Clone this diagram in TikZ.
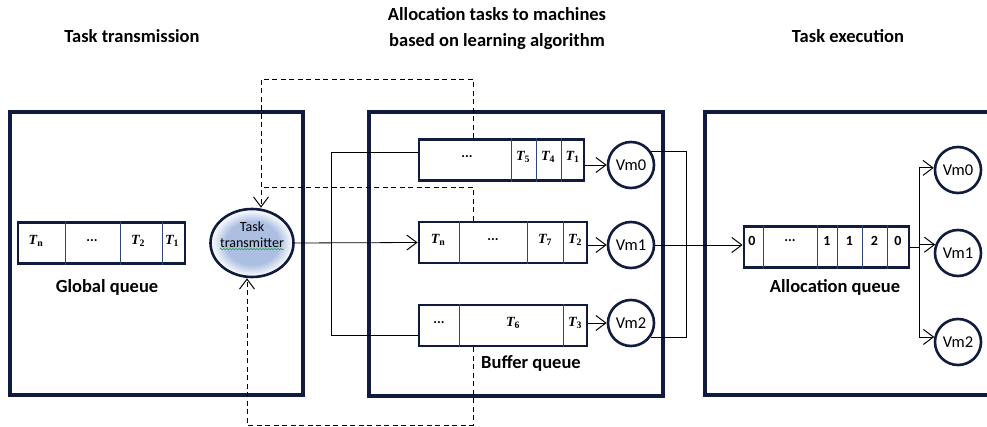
\documentclass[tikz,border=0pt]{standalone}
\usepackage{fontspec}
\setmainfont{Carlito}
\newfontfamily\tskfont{Liberation Serif}
\usetikzlibrary{shapes.geometric,positioning,calc,arrows.meta,decorations.pathmorphing}

\definecolor{navy}{RGB}{16,27,62}
\definecolor{cellblue}{RGB}{45,70,120}
\definecolor{txblue}{RGB}{172,190,226}
\definecolor{squig}{RGB}{40,160,60}

\pgfdeclareradialshading{txglow}{\pgfpoint{0bp}{0bp}}{color(0bp)=(txblue);
  color(16bp)=(txblue); color(23bp)=(white!80!txblue); color(25bp)=(white); color(50bp)=(white)}

\newcommand{\tsk}[1]{{\tskfont\bfseries\itshape T\textsubscript{\upshape #1}}}

\tikzset{
  frame/.style={draw=navy,line width=3.6pt},
  queue/.style={rectangle,draw=navy,line width=2.8pt,inner sep=0pt,minimum height=41pt},
  cell/.style={draw=cellblue,line width=0.9pt},
  vm/.style={circle,draw=navy,line width=2.6pt,fill=white,minimum size=46pt,inner sep=0pt,
    font=\fontsize{16.5}{16.5}\selectfont},
  link/.style={line width=0.8pt},
  feed/.style={line width=0.8pt,dash pattern=on 5pt off 3.5pt},
  tip/.style={-{Straight Barb[length=10pt,width=15pt,line width=1pt]}},
  lbl/.style={font=\bfseries\fontsize{18.5}{26}\selectfont,align=center,inner sep=0pt},
  tsklbl/.style={font=\fontsize{14}{14}\selectfont,inner sep=0pt},
  num/.style={font=\bfseries\fontsize{14}{14}\selectfont,inner sep=0pt}
}

\begin{document}
\begin{tikzpicture}[x=1pt,y=-1pt]

\useasboundingbox (0,0) rectangle (987,427);
\clip (0,0) rectangle (987,427);

\node[lbl] (ttx) at (132,36) {Task transmission};
\node[lbl] (tal) at (497,29) {Allocation tasks to machines\\based on learning algorithm};
\node[lbl] (tex) at (848,36) {Task execution};

\draw[frame] (10,112) rectangle (303,395);
\draw[frame] (369,112) rectangle (663,396);
\draw[frame] (705,112) rectangle (1000,395);

% global queue
\node[queue,minimum width=167pt] (gq) at (101.5,243) {};
\foreach \x in {65,120,162}{\draw[cell] (\x,0 |- gq.north) -- (\x,0 |- gq.south);}
\foreach \x/\t [count=\i] in {36/\tsk{n},92/\textbf{...},138/\tsk{2},172/\tsk{1}}
  {\node[tsklbl] (g\i) at (\x,241) {\t};}
\node[lbl] (gql) at (107,287) {Global queue};

% transmitter
\node[ellipse,draw=navy,line width=2.6pt,minimum width=83pt,minimum height=68pt,
  shading=txglow] (tx) at (252,243) {};
\node[align=center,inner sep=0pt,font=\fontsize{14}{16}\selectfont] (txl) at ($(tx)+(0,-8)$) {Task\\transmitter};
\draw[squig,line width=0.6pt,decorate,decoration={snake,amplitude=0.7pt,segment length=3pt}]
  ($(txl.south west)+(0,1)$) -- ($(txl.south east)+(0,1)$);

% buffer queues
\node[queue,minimum width=165pt] (q0) at (501.5,160) {};
\node[queue,minimum width=168pt] (q1) at (503,242.5) {};
\node[queue,minimum width=168pt] (q2) at (503,325.5) {};
\foreach \x in {511,536,561}{\draw[cell] (\x,0 |- q0.north) -- (\x,0 |- q0.south);}
\foreach \x in {459,527,563}{\draw[cell] (\x,0 |- q1.north) -- (\x,0 |- q1.south);}
\foreach \x in {459,563}{\draw[cell] (\x,0 |- q2.north) -- (\x,0 |- q2.south);}
\foreach \x/\t [count=\i] in {467/\textbf{...},523/\tsk{5},548/\tsk{4},572.5/\tsk{1}}
  {\node[tsklbl] (a\i) at (\x,157) {\t};}
\foreach \x/\t [count=\i] in {438/\tsk{n},493/\textbf{...},545/\tsk{7},575/\tsk{2}}
  {\node[tsklbl] (b\i) at (\x,240) {\t};}
\foreach \x/\t [count=\i] in {439/\textbf{...},513/\tsk{6},575/\tsk{3}}
  {\node[tsklbl] (c\i) at (\x,323) {\t};}
\node[lbl] (bql) at (531,363) {Buffer queue};

\node[vm] (vm0) at (631,165) {Vm0};
\node[vm] (vm1) at (631,245) {Vm1};
\node[vm] (vm2) at (631,323) {Vm2};
\foreach \k in {0,1,2}{\draw[link,tip] (q\k.east |- vm\k.west) -- (vm\k.west);}

% allocation queue
\node[queue,minimum width=165pt] (aq) at (826.5,247) {};
\foreach \x in {763,817,837,862,887}{\draw[cell] (\x,0 |- aq.north) -- (\x,0 |- aq.south);}
\foreach \x/\t [count=\i] in {752/0,790/{...},827/1,849.5/1,874.5/2,898/0}
  {\node[num] (n\i) at (\x,241) {\t};}
\node[lbl] (aql) at (835,287) {Allocation queue};

\node[vm] (ve0) at (958,170) {Vm0};
\node[vm] (ve1) at (958,253) {Vm1};
\node[vm] (ve2) at (958,342) {Vm2};

% connectors
\coordinate (b0) at (331,152);
\coordinate (b2) at (331,335);
\draw[link,tip] (tx.east) -- (q1.west);
\draw[link] (q0.west |- b0) -- (b0) -- (b2) -- (q2.west |- b2);

\coordinate (jr) at (686,245);
\draw[link] (vm0.33) -| (jr) |- (vm2.-36);
\draw[link,tip] (vm1.east) -- (aq.west |- vm1.east);

\coordinate (ax) at (919,247);
\draw[link] (aq.east) -- (ax);
\draw[link] (ax |- ve0.175) -- (ax |- ve2.168);
\foreach \k/\a in {0/175,1/160,2/168}{\draw[link,tip] (ax |- ve\k.\a) -- (ve\k.\a);}

% feedback
\coordinate (d0) at (473,79);
\coordinate (d1) at (261,79);
\coordinate (d2) at (473,187);
\coordinate (d3) at (261,187);
\coordinate (d4) at (473,425);
\coordinate (d5) at (247,425);
\draw[feed,tip] (q0.north -| d0) |- (d1) -- (d1 |- tx.north);
\draw[feed] (q1.north -| d2) |- (d3);
\draw[feed,tip] (q2.south -| d4) |- (d5) -- (d5 |- tx.south);

\end{tikzpicture}
\end{document}
